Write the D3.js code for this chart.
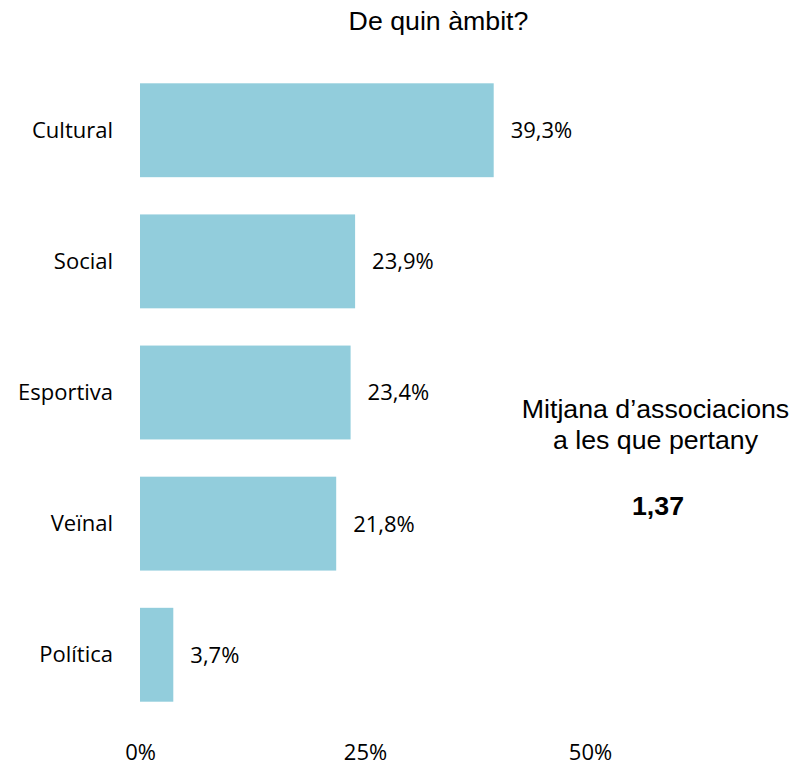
<!DOCTYPE html>
<html><head><meta charset="utf-8">
<script src="https://cdn.jsdelivr.net/npm/d3@7"></script>
<style>body{margin:0;background:#fff}</style>
</head><body>
<svg id="c" width="792" height="766"></svg>
<script>
const categories = ["Cultural","Social","Esportiva","Veïnal","Política"];
const values = [39.3, 23.9, 23.4, 21.8, 3.7];
const valueLabels = ["39,3%","23,9%","23,4%","21,8%","3,7%"];
const tickValues = [0, 25, 50];
const tickLabels = ["0%","25%","50%"];
const title = "De quin àmbit?";
const noteLines = ["Mitjana d’associacions","a les que pertany"];
const noteValue = "1,37";

const svg = d3.select("#c");
const x = d3.scaleLinear().domain([0, 50]).range([140, 590]);
const y = d3.scaleBand().domain(categories).range([83.3, 701.7]).paddingInner(0.284).paddingOuter(0);
const stretch = 1.07;

function stretchedText(parent, cx, cy, txt, size, weight) {
  const g = parent.append("g").attr("transform", `translate(${cx},${cy}) scale(${stretch},1)`);
  g.append("text").attr("text-anchor","middle")
    .attr("font-family","Liberation Sans, Arial, sans-serif").attr("font-size",size)
    .attr("font-weight",weight||"normal").attr("fill","#000").text(txt);
  return g;
}

stretchedText(svg, 438.5, 30, title, 25);

svg.selectAll("rect.bar").data(values).join("rect").attr("class","bar")
  .attr("x", x(0)).attr("y", (d,i)=>y(categories[i]))
  .attr("width", d=>x(d)-x(0)).attr("height", y.bandwidth()).attr("fill","#92CDDC");

svg.selectAll("text.val").data(values).join("text").attr("class","val")
  .attr("x", d=>x(d)+17).attr("y", (d,i)=>y(categories[i])+y.bandwidth()/2)
  .attr("dy","0.36em")
  .attr("font-family","Open Sans, sans-serif").attr("font-size",22).attr("fill","#000")
  .text((d,i)=>valueLabels[i]);

const yAxis = svg.append("g").attr("transform","translate(113,0)")
  .call(d3.axisLeft(y).tickSize(0).tickPadding(0));
yAxis.select(".domain").remove();
yAxis.selectAll("text").attr("font-family","Open Sans, sans-serif").attr("font-size",22).attr("fill","#000").attr("dy","0.34em");

const xAxis = svg.append("g").attr("transform","translate(0,744)")
  .call(d3.axisBottom(x).tickValues(tickValues).tickFormat((d,i)=>tickLabels[i]).tickSize(0).tickPadding(0));
xAxis.select(".domain").remove();
xAxis.selectAll("text").attr("font-family","Open Sans, sans-serif").attr("font-size",22).attr("fill","#000").attr("dy","0.72em");

const baselines = [418, 449];
noteLines.forEach((t,i)=>stretchedText(svg, 655.5, baselines[i], t, 25));
stretchedText(svg, 658, 515, noteValue, 25, "bold");
</script>
</body></html>
